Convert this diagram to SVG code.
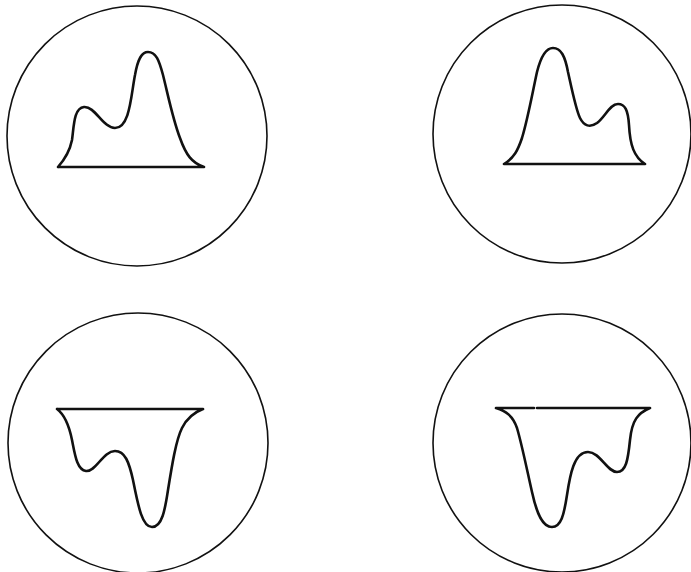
<svg xmlns="http://www.w3.org/2000/svg" width="691" height="572" viewBox="0 0 691 572">
<style>
.c{fill:none;stroke:#111;stroke-width:1.6}
.p{fill:none;stroke:#111;stroke-width:2.6;stroke-linejoin:round;stroke-linecap:round}
</style>
<rect width="691" height="572" fill="#fff"/>
<g id="top-left">
<circle class="c" cx="137" cy="136" r="130"/>
<path class="p" d="M58,167 L204,167 M58,167 C66,158 70,150 72,140 C74,125 74,108 84,107 C95,106 103,128 115,128 C130,128 131,95 135,75 C138,58 142,52 148,52 C156,52 159,60 163,75 C168,95 173,120 180,138 C186,155 192,163 204,167"/>
</g>
<g id="top-right">
<circle class="c" cx="562" cy="134" r="129"/>
<path class="p" d="M504,164 L645,164 M504,164 C514,158 518,150 522,138 C528,118 532,95 537,72 C541,56 546,48 553,48 C561,48 565,56 568,72 C572,90 576,110 580,118 C584,126 590,128 597,123 C605,117 610,104 618,104 C625,104 628,110 629,125 C630,145 634,157 645,164"/>
</g>
<g id="bottom-left">
<circle class="c" cx="138" cy="443" r="130"/>
<path class="p" d="M57,409 L203,409 M57,409 C65,415 69,425 72,440 C75,455 77,470 86,471 C96,472 103,451 115,451 C125,451 129,462 133,480 C138,505 142,527 152,527 C162,527 165,510 168,490 C172,465 176,440 182,428 C187,418 195,412 203,409"/>
</g>
<g id="bottom-right">
<circle class="c" cx="562" cy="443" r="129"/>
<path class="p" d="M496,408 L534,408 M537,408 L650,408 M496,408 C506,411 513,416 517,428 C522,445 527,470 532,492 C537,515 543,527 552,527 C561,527 564,515 567,495 C570,475 574,452 588,452 C600,452 607,472 617,472 C626,472 628,460 630,440 C632,420 638,413 650,408"/>
</g>
</svg>
